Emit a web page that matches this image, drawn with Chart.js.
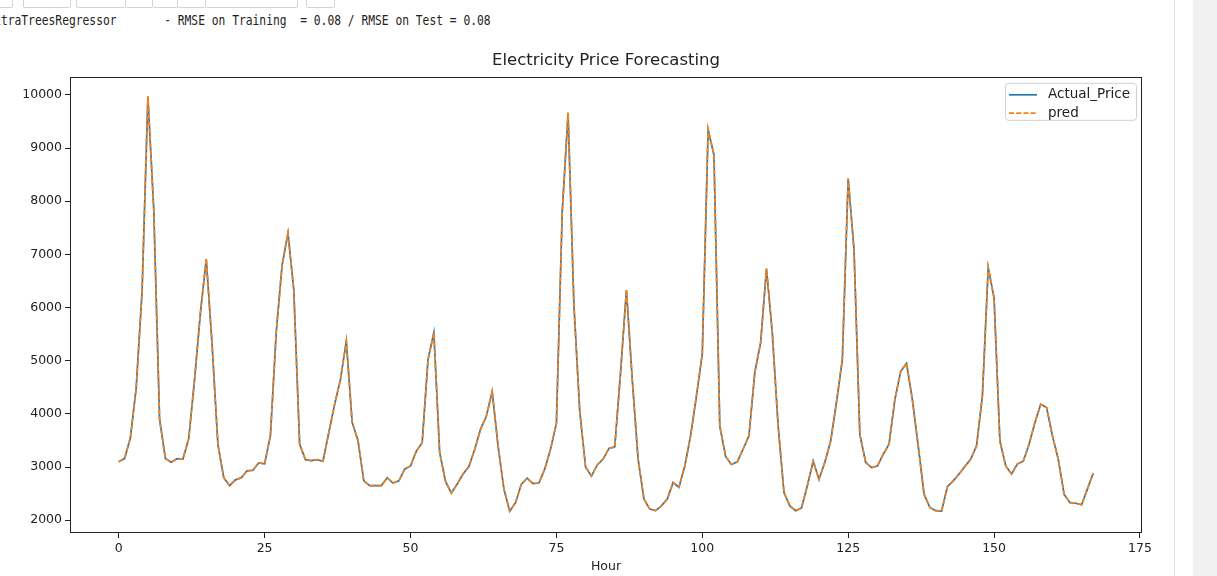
<!DOCTYPE html>
<html>
<head>
<meta charset="utf-8">
<script src="https://cdn.jsdelivr.net/npm/chart.js@4/dist/chart.umd.min.js"></script>
<style>
  html,body{margin:0;padding:0;background:#fff;overflow:hidden;}
  #wrap{position:relative;width:1217px;height:576px;}
  #c{position:absolute;left:0;top:0;}
  .btn{position:absolute;top:-3px;height:9px;border:1px solid #d4d4d4;border-radius:2px;background:#fff;}
  #hdr{position:absolute;left:-12.7px;top:12px;font:11.3px 'DejaVu Sans Mono',monospace;color:#222;white-space:pre;transform:scale(1,1.3);transform-origin:0 0;}
  #vline{position:absolute;left:1174px;top:0;width:1px;height:576px;background:#e2e2e2;}
  #sbar{position:absolute;left:1193px;top:0;width:24px;height:576px;background:#f1f1f1;}
</style>
</head>
<body>
<div id="wrap">
  <div class="btn" style="left:-5px;width:16px"></div>
  <div class="btn" style="left:23px;width:46px"></div>
  <div class="btn" style="left:76px;width:48px"></div>
  <div class="btn" style="left:125px;width:26px"></div>
  <div class="btn" style="left:152px;width:24px"></div>
  <div class="btn" style="left:177px;width:27px"></div>
  <div class="btn" style="left:205px;width:91px"></div>
  <div class="btn" style="left:306px;width:27px"></div>
  <div id="hdr">ExtraTreesRegressor       - RMSE on Training  = 0.08 / RMSE on Test = 0.08</div>
  <canvas id="c" width="1217" height="576"></canvas>
  <div id="vline"></div>
  <div id="sbar"></div>
</div>
<script>
// Electricity price forecast: actual vs predicted, hourly
const hours = Array.from({length:168},(_,i)=>i);
const actualPrice = [
  3100,3160,3550,4500,6300,9960,7850,3900,3160,3090,
  3160,3150,3540,4650,5900,6910,5300,3420,2800,2650,
  2760,2800,2930,2940,3080,3060,3600,5550,6800,7400,
  6330,3430,3140,3120,3140,3110,3650,4180,4650,5370,
  3840,3500,2740,2650,2650,2650,2800,2700,2740,2960,
  3020,3300,3460,5020,5530,3270,2730,2510,2680,2870,
  3010,3330,3710,3960,4420,3400,2590,2170,2330,2680,
  2790,2690,2700,2960,3340,3820,7800,9650,6050,4050,
  3000,2830,3040,3150,3350,3380,4780,6330,4650,3150,
  2400,2210,2180,2270,2400,2710,2620,3020,3590,4340,
  5130,9340,8870,3770,3200,3050,3100,3340,3590,4780,
  5340,6730,5520,3770,2520,2270,2180,2230,2650,3110,
  2770,3090,3490,4220,5020,8420,7090,3610,3090,2990,
  3020,3240,3430,4270,4800,4950,4270,3400,2490,2240,
  2180,2170,2630,2740,2870,3010,3150,3400,4340,6750,
  6180,3490,3020,2870,3060,3110,3430,3840,4180,4120,
  3590,3150,2490,2330,2320,2290,2590,2890
];
const predPrice = [
  3100,3160,3550,4500,6300,9980,7850,3900,3160,3090,
  3160,3150,3540,4650,5900,6920,5300,3420,2800,2650,
  2760,2800,2930,2940,3080,3060,3600,5550,6800,7400,
  6330,3430,3140,3120,3140,3110,3650,4180,4650,5370,
  3840,3500,2740,2650,2650,2650,2800,2700,2740,2960,
  3020,3300,3460,5020,5530,3270,2730,2510,2680,2870,
  3010,3330,3710,3960,4420,3400,2590,2170,2330,2680,
  2790,2690,2700,2960,3340,3820,7800,9670,6050,4050,
  3000,2830,3040,3150,3350,3380,4780,6340,4650,3150,
  2400,2210,2180,2270,2400,2710,2620,3020,3590,4340,
  5130,9360,8870,3770,3200,3050,3100,3340,3590,4780,
  5340,6740,5520,3770,2520,2270,2180,2230,2650,3110,
  2770,3090,3490,4220,5020,8430,7090,3610,3090,2990,
  3020,3240,3430,4270,4800,4950,4270,3400,2490,2240,
  2180,2170,2630,2740,2870,3010,3150,3400,4340,6760,
  6180,3490,3020,2870,3060,3110,3430,3840,4180,4120,
  3590,3150,2490,2330,2320,2290,2590,2890
];
const xTicks = [0,25,50,75,100,125,150,175];
const yTicks = [2000,3000,4000,5000,6000,7000,8000,9000,10000];

const FONT = 'DejaVu Sans';
const tickFont = {family:FONT,size:12.5};

// black box round the plot, like matplotlib spines
const frame = {id:'frame', afterDatasetsDraw(chart){
  const {ctx,chartArea:a}=chart; ctx.save();
  ctx.strokeStyle='#222'; ctx.lineWidth=1;
  ctx.strokeRect(Math.round(a.left)+.5,Math.round(a.top)+.5,Math.round(a.right-a.left)-1,Math.round(a.bottom-a.top)-1);
  ctx.restore();
}};

// legend inside upper right corner
const boxLegend = {id:'boxLegend', afterDraw(chart){
  const {ctx,chartArea:a}=chart; const ds=chart.data.datasets;
  ctx.save(); ctx.font='13.5px '+FONT;
  const tw=Math.max(...ds.map(d=>ctx.measureText(d.label).width));
  const w=43+tw+6, h=37, x=a.right-6-w, y=a.top+6;
  ctx.beginPath(); ctx.roundRect(x+.5,y+.5,w,h,3);
  ctx.fillStyle='rgba(255,255,255,0.8)'; ctx.fill();
  ctx.strokeStyle='#d0d0d0'; ctx.lineWidth=1; ctx.stroke();
  ds.forEach((d,i)=>{
    const cy=y+12+i*18.3;
    ctx.beginPath(); ctx.setLineDash(d.borderDash||[]);
    ctx.strokeStyle=d.borderColor; ctx.lineWidth=d.borderWidth;
    ctx.moveTo(x+4,cy); ctx.lineTo(x+32,cy); ctx.stroke();
    ctx.setLineDash([]);
    ctx.fillStyle='#222'; ctx.textBaseline='middle'; ctx.textAlign='left';
    ctx.fillText(d.label,x+43,cy);
  });
  ctx.restore();
}};

new Chart(document.getElementById('c'),{
  type:'line',
  data:{labels:hours,datasets:[
    {label:'Actual_Price',data:actualPrice,borderColor:'#1f77b4',borderWidth:1.7,pointRadius:0,tension:0,fill:false,order:1},
    {label:'pred',data:predPrice,borderColor:'#ff7f0e',borderWidth:1.7,borderDash:[5,2.2],pointRadius:0,tension:0,fill:false,order:0}
  ]},
  options:{
    responsive:false,animation:false,
    layout:{padding:{top:0,right:75,bottom:0,left:0}},
    plugins:{
      legend:{display:false},tooltip:{enabled:false},
      title:{display:true,text:'Electricity Price Forecasting',fullSize:false,color:'#222',
        font:{family:FONT,size:16.5,weight:'normal',lineHeight:1.2},padding:{top:51,bottom:6}}
    },
    scales:{
      x:{type:'linear',min:-8.35,max:175.35,
        afterBuildTicks:s=>{s.ticks=xTicks.map(v=>({value:v}));},
        afterFit:s=>{s.height=43;},
        grid:{drawOnChartArea:false,drawTicks:true,tickLength:5,color:'#222'},
        border:{display:false},
        ticks:{font:tickFont,color:'#222',padding:3,maxRotation:0,callback:v=>v},
        title:{display:true,text:'Hour',font:tickFont,color:'#222',padding:{top:0,bottom:2}}},
      y:{min:1760,max:10340,
        afterBuildTicks:s=>{s.ticks=yTicks.map(v=>({value:v}));},
        afterFit:s=>{s.width=70;},
        grid:{drawOnChartArea:false,drawTicks:true,tickLength:5,color:'#222'},
        border:{display:false},
        ticks:{font:tickFont,color:'#222',padding:3,callback:v=>v}}
    }
  },
  plugins:[frame,boxLegend]
});
</script>
</body>
</html>
